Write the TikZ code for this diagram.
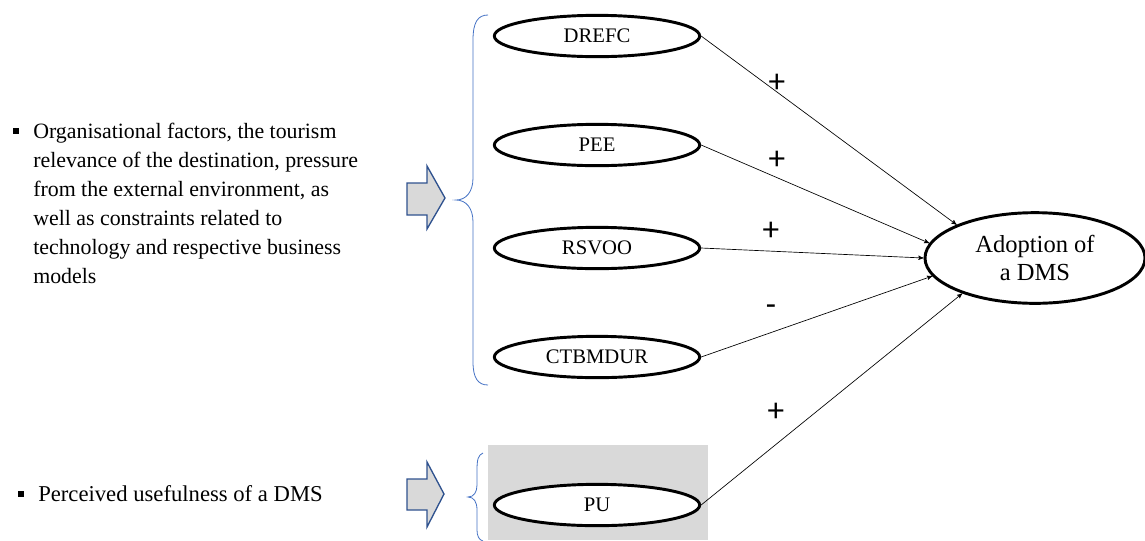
\documentclass[tikz,border=0pt]{standalone}
\usepackage{fontspec}
\setmainfont{Liberation Serif}
\newfontfamily\signfont{Carlito}
\usetikzlibrary{arrows, shapes}
\definecolor{bracecol}{HTML}{4472C4}
\definecolor{arrowline}{HTML}{2F528F}
\definecolor{boxgray}{HTML}{D9D9D9}
\tikzset{
  construct/.style={ellipse, draw, line width=2.2pt, fill=white, inner sep=0pt,
    minimum width=154pt, minimum height=31pt, font=\fontsize{15.5}{18}\selectfont},
  outcome/.style={ellipse, draw, line width=2.2pt, fill=white, inner sep=0pt, align=center,
    minimum width=165pt, minimum height=68pt, font=\fontsize{18.4}{21}\selectfont},
  link/.style={->, >=stealth', line width=0.5pt},
  sign/.style={font=\signfont\fontsize{25}{26}\selectfont, inner sep=0pt},
  bulletmark/.style={rectangle, fill=black, inner sep=0pt, minimum size=4.5pt},
  bullettext/.style={align=left, inner sep=0pt, font=\fontsize{16.4}{21.75}\selectfont},
  fatarrow/.style={draw=arrowline, fill=boxgray, line width=1pt},
  bracket/.style={draw=bracecol, line width=0.6pt}
}

\begin{document}
\begin{tikzpicture}[x=0.75pt, y=-0.75pt]
  \useasboundingbox (0,0) rectangle (1145,540);
  \fill[boxgray] (488,445) rectangle (708,540);

  % left hand side
  \node[bulletmark] (b1) at (16,131) {};
  \node[bullettext, anchor=north west] (factors) at (33,123)
    {Organisational factors, the tourism\\relevance of the destination, pressure\\from the external environment, as\\well as constraints related to\\technology and respective business\\models};
  \node[bulletmark] (b2) at (21,494) {};
  \node[bullettext, anchor=west, font=\fontsize{17}{20}\selectfont] (useful) at (38,494) {Perceived usefulness of a DMS};

  % block arrows and braces
  \draw[fatarrow] (407,183) -- (427,183) -- (427,166) -- (445,198) -- (427,229) -- (427,215) -- (407,215) -- cycle;
  \draw[fatarrow] (407,479) -- (427,479) -- (427,462) -- (444,494) -- (427,527) -- (427,510) -- (407,510) -- cycle;
  \draw[bracket] (488,15) .. controls (478,15) and (473,22) .. (473,40) -- (473,178)
    .. controls (473,192) and (466,200) .. (456,200)
    .. controls (466,200) and (473,208) .. (473,222) -- (473,362)
    .. controls (473,378) and (478,385) .. (488,385);
  \draw[bracket] (483,453) .. controls (478,455) and (477,460) .. (477,470) -- (477,485)
    .. controls (477,492) and (474,497) .. (468,497)
    .. controls (474,497) and (477,502) .. (477,510) -- (477,530)
    .. controls (477,536) and (479,540) .. (483,541);

  % constructs
  \node[construct] (drefc) at (597,36) {DREFC};
  \node[construct] (pee) at (597,145) {PEE};
  \node[construct] (rsvoo) at (597,248) {RSVOO};
  \node[construct] (ctbmdur) at (597,357) {CTBMDUR};
  \node[construct] (pu) at (597,505) {PU};
  \node[outcome] (adopt) at (1035,258) {Adoption of\\a DMS};

  \draw[link] (drefc.east) -- (adopt.157);
  \draw[link] (pee.east) -- (adopt.172);
  \draw[link] (rsvoo.east) -- (adopt.180);
  \draw[link] (ctbmdur.east) -- (adopt.190);
  \draw[link] (pu.east) -- (adopt.206);

  \node[sign] (s1) at (777,83) {+};
  \node[sign] (s2) at (777,160) {+};
  \node[sign] (s3) at (771,231) {+};
  \node[sign] (s4) at (771,310) {-};
  \node[sign] (s5) at (776,412) {+};
\end{tikzpicture}
\end{document}
